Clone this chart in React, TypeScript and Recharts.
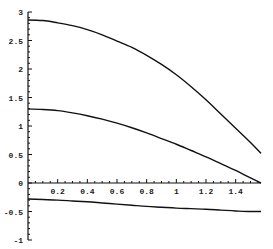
import React from 'react';
import { LineChart, Line, XAxis, YAxis, ReferenceLine } from 'recharts';

// sample positions along x (0 .. pi/2)
const XS = [0, 0.1, 0.2, 0.3, 0.4, 0.5, 0.6, 0.7, 0.8, 0.9, 1.0, 1.1, 1.2, 1.3, 1.4, 1.5, 1.5708];
const TOP = [2.86, 2.85, 2.81, 2.76, 2.69, 2.6, 2.49, 2.38, 2.24, 2.08, 1.9, 1.69, 1.46, 1.21, 0.96, 0.71, 0.52];
const MID = [1.3, 1.29, 1.27, 1.23, 1.18, 1.12, 1.05, 0.97, 0.88, 0.78, 0.68, 0.57, 0.46, 0.34, 0.22, 0.09, 0];
const BOT = [-0.28, -0.29, -0.3, -0.315, -0.33, -0.35, -0.37, -0.39, -0.41, -0.425, -0.44, -0.45, -0.46, -0.475, -0.49, -0.5, -0.5];

const X_LABELS = [0.2, 0.4, 0.6, 0.8, 1, 1.2, 1.4];
const Y_LABELS = [-1, -0.5, 0, 0.5, 1, 1.5, 2, 2.5, 3];

const X_TICKS = Array.from({ length: 32 }, (_, i) => Math.round(i * 5) / 100);
const Y_TICKS = Array.from({ length: 41 }, (_, i) => Math.round(i - 10) / 10);

const data = XS.map((x, i) => ({ x, top: TOP[i], mid: MID[i], bot: BOT[i] }));

const W = 273;
const H = 249;
const M = { top: 12, right: 12, bottom: 8, left: 0 };
const X_AXIS_H = 1;
const AXIS_X = 28;
// pixel row of y = 0 inside the plot (domain -1..3)
const ZERO_Y = M.top + ((H - M.top - M.bottom - X_AXIS_H) * 3) / 4;

const FONT = '"Liberation Mono", monospace';

const isMajor = (v: number, step: number) => Math.abs(v / step - Math.round(v / step)) < 1e-6;

function XTick(props: any) {
  const { x, payload } = props;
  const v = payload.value;
  if (v === 0) return <g />;
  const major = isMajor(v, 0.2);
  return (
    <g>
      <line x1={x} x2={x} y1={ZERO_Y} y2={ZERO_Y - (major ? 4 : 2)} stroke="#111" strokeWidth={1} />
      {major && (
        <text x={x} y={ZERO_Y + 11} textAnchor="middle" fontSize={8} fontFamily={FONT} fontWeight="bold" fill="#222">
          {X_LABELS.find((l) => Math.abs(l - v) < 1e-6)}
        </text>
      )}
    </g>
  );
}

function YTick(props: any) {
  const { y, payload } = props;
  const v = payload.value;
  const major = isMajor(v, 0.5);
  return (
    <g>
      <line x1={AXIS_X} x2={AXIS_X + (major ? 4 : 2)} y1={y} y2={y} stroke="#111" strokeWidth={1} />
      {major && (
        <text x={AXIS_X - 5} y={y + 3} textAnchor="end" fontSize={8} fontFamily={FONT} fontWeight="bold" fill="#222">
          {Y_LABELS.find((l) => Math.abs(l - v) < 1e-6)}
        </text>
      )}
    </g>
  );
}

export default function App() {
  return (
    <div style={{ position: 'absolute', left: 0, top: 0, background: '#fff' }}>
      <LineChart width={W} height={H} data={data} margin={M}>
        <XAxis
          dataKey="x"
          type="number"
          domain={[0, 1.5708]}
          ticks={X_TICKS}
          interval={0}
          axisLine={false}
          tickLine={false}
          height={X_AXIS_H}
          tick={XTick}
        />
        <YAxis
          type="number"
          domain={[-1, 3]}
          ticks={Y_TICKS}
          interval={0}
          width={AXIS_X}
          axisLine={{ stroke: '#111', strokeWidth: 1.2 }}
          tickLine={false}
          tick={YTick}
        />
        <ReferenceLine y={0} stroke="#111" strokeWidth={1.2} />
        <Line dataKey="top" type="monotone" stroke="#111" strokeWidth={1.4} dot={false} isAnimationActive={false} />
        <Line dataKey="mid" type="monotone" stroke="#111" strokeWidth={1.4} dot={false} isAnimationActive={false} />
        <Line dataKey="bot" type="monotone" stroke="#111" strokeWidth={1.4} dot={false} isAnimationActive={false} />
      </LineChart>
    </div>
  );
}
